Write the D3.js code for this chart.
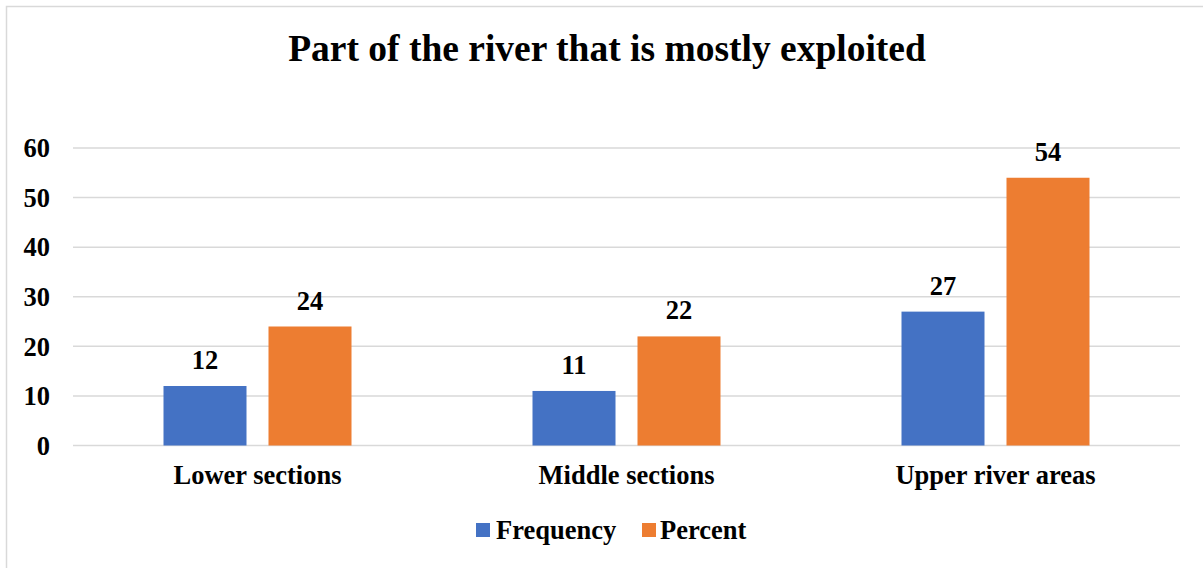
<!DOCTYPE html>
<html>
<head>
<meta charset="utf-8">
<script src="https://cdn.jsdelivr.net/npm/d3@7"></script>
<style>
  html, body { margin: 0; padding: 0; background: #ffffff; }
  svg { display: block; }
</style>
</head>
<body>
<svg id="chart" width="1203" height="568"></svg>
<script>
// Survey answers: which part of the river is mostly exploited
const categories = ["Lower sections", "Middle sections", "Upper river areas"];
const seriesNames = ["Frequency", "Percent"];
const frequency = [12, 11, 27];
const percent = [24, 22, 54];
const yTicks = [0, 10, 20, 30, 40, 50, 60];
const title = "Part of the river that is mostly exploited";

const colors = { Frequency: "#4472c4", Percent: "#ed7d31" };
const seriesValues = { Frequency: frequency, Percent: percent };
const FONT = '"Liberation Serif", "Times New Roman", Times, serif';
const LABEL_SIZE = 26.5;

const svg = d3.select("#chart");
const W = 1203, H = 568;

// Helper: bold serif text styling
function serif(sel, size) {
  return sel.style("font-family", FONT)
    .style("font-weight", "bold")
    .style("font-size", size + "px")
    .attr("fill", "#000");
}

// Chart frame
svg.append("rect")
  .attr("x", 6.5).attr("y", 6.5)
  .attr("width", W + 10).attr("height", H + 10)
  .attr("fill", "#fff").attr("stroke", "#d9d9d9").attr("stroke-width", 1.5);

const plot = { left: 73, right: 1180, top: 148, bottom: 445.5 };

const x = d3.scaleBand().domain(categories).range([plot.left, plot.right]);
const y = d3.scaleLinear().domain([0, 60]).range([plot.bottom, plot.top]);

// Title
serif(svg.append("text"), 37.5)
  .attr("x", 607).attr("y", 61)
  .attr("text-anchor", "middle")
  .text(title);

// Gridlines
svg.append("g").selectAll("line").data(yTicks).join("line")
  .attr("x1", plot.left).attr("x2", plot.right)
  .attr("y1", d => y(d)).attr("y2", d => y(d))
  .attr("stroke", "#d9d9d9").attr("stroke-width", 1.5);

// Y axis labels
const yAxis = d3.axisLeft(y).tickValues(yTicks).tickSize(0).tickPadding(0);
const yg = svg.append("g").attr("transform", "translate(50,0)").call(yAxis);
yg.select(".domain").remove();
serif(yg.selectAll("text"), LABEL_SIZE).attr("dy", "0.33em");

// X axis labels
const xAxis = d3.axisBottom(x).tickSize(0).tickPadding(0);
const xg = svg.append("g").attr("transform", `translate(0,${plot.bottom})`).call(xAxis);
xg.select(".domain").remove();
serif(xg.selectAll("text"), LABEL_SIZE).attr("y", 38.5).attr("dy", 0);

// Bars: two series per category
const barW = 83, barGap = 22;
const inner = d3.scaleOrdinal().domain(seriesNames)
  .range([-(barW + barGap / 2), barGap / 2]);

const rows = categories.map((c, i) => seriesNames.map(s => ({ cat: c, series: s, value: seriesValues[s][i] })));
const groups = svg.append("g").selectAll("g").data(rows).join("g");

groups.selectAll("rect").data(d => d).join("rect")
  .attr("x", d => x(d.cat) + x.bandwidth() / 2 + inner(d.series))
  .attr("y", d => y(d.value))
  .attr("width", barW)
  .attr("height", d => y(0) - y(d.value))
  .attr("fill", d => colors[d.series]);

// Value labels above bars
serif(groups.selectAll("text").data(d => d).join("text"), LABEL_SIZE)
  .attr("x", d => x(d.cat) + x.bandwidth() / 2 + inner(d.series) + barW / 2)
  .attr("y", d => y(d.value) - 17)
  .attr("text-anchor", "middle")
  .text(d => d.value);

// Legend
const legendItems = [
  { name: "Frequency", sx: 476, tx: 496 },
  { name: "Percent", sx: 642, tx: 660 }
];
const lg = svg.append("g").selectAll("g").data(legendItems).join("g");
lg.append("rect")
  .attr("x", d => d.sx).attr("y", 523)
  .attr("width", 14).attr("height", 14)
  .attr("fill", d => colors[d.name]);
serif(lg.append("text"), LABEL_SIZE)
  .attr("x", d => d.tx).attr("y", 538.5)
  .text(d => d.name);
</script>
</body>
</html>
